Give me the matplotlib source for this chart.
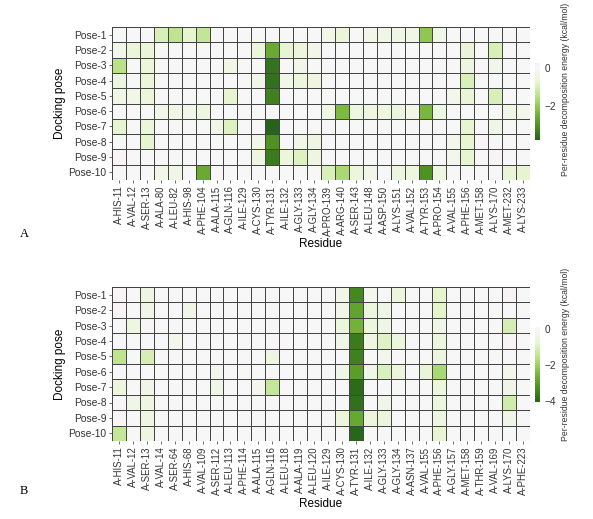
import numpy as np
import matplotlib
matplotlib.use("Agg")
import matplotlib.pyplot as plt
from matplotlib.colors import ListedColormap, Normalize

plt.rcParams['font.family'] = ['Liberation Sans', 'DejaVu Sans']

poses = [f"Pose-{i}" for i in range(1, 11)]

residues_a = ["A-HIS-11", "A-VAL-12", "A-SER-13", "A-ALA-80", "A-LEU-82", "A-HIS-98",
              "A-PHE-104", "A-ALA-115", "A-GLN-116", "A-ILE-129", "A-CYS-130", "A-TYR-131",
              "A-ILE-132", "A-GLY-133", "A-GLY-134", "A-PRO-139", "A-ARG-140", "A-SER-143",
              "A-LEU-148", "A-ASP-150", "A-LYS-151", "A-VAL-152", "A-TYR-153", "A-PRO-154",
              "A-VAL-155", "A-PHE-156", "A-MET-158", "A-LYS-170", "A-MET-232", "A-LYS-233"]

residues_b = ["A-HIS-11", "A-VAL-12", "A-SER-13", "A-VAL-14", "A-SER-64", "A-HIS-68",
              "A-VAL-109", "A-SER-112", "A-LEU-113", "A-PHE-114", "A-ALA-115", "A-GLN-116",
              "A-LEU-118", "A-ALA-119", "A-LEU-120", "A-ILE-129", "A-CYS-130", "A-TYR-131",
              "A-ILE-132", "A-GLY-133", "A-GLY-134", "A-ASN-137", "A-VAL-155", "A-PHE-156",
              "A-GLY-157", "A-MET-158", "A-THR-159", "A-VAL-169", "A-LYS-170", "A-PHE-223"]

# Panel A energies (kcal/mol), rows Pose-1..Pose-10, columns residues_a
energy_a = [
    [0, 0, 0, -1.0, -1.4, -0.75, -1.35, 0, 0, 0, 0, 0, 0, 0, 0,
     -0.3, -0.6, 0, -0.3, -0.35, -0.35, -0.35, -2.05, -0.3, 0, 0, 0, 0, 0, 0],
    [-0.3, -0.6, -0.6, 0, 0, 0, 0, 0, 0, 0, -0.6, -2.6, -0.7, -0.55, -0.3,
     0, 0, 0, 0, 0, 0, 0, 0, 0, 0, -0.65, 0, -1.0, 0, 0],
    [-1.5, 0, -0.55, 0, 0, 0, 0, 0, -0.35, 0, 0, -3.5, 0, -0.3, 0,
     0, 0, 0, 0, 0, 0, 0, 0, 0, 0, -0.4, 0, -0.25, 0, 0],
    [-0.5, 0, -0.6, 0, 0, 0, 0, 0, 0, 0, -0.35, -3.55, -0.3, -0.55, -0.4,
     0, 0, 0, 0, 0, 0, 0, 0, 0, 0, -1.0, 0, 0, 0, 0],
    [-0.35, -0.3, -0.55, 0, 0, 0, 0, 0, -0.75, 0, 0, -3.3, 0, 0, 0,
     0, 0, 0, 0, 0, 0, 0, 0, 0, -0.2, -0.65, 0, -1.0, 0, 0],
    [0, 0, 0, -0.25, -0.35, -0.25, -0.45, 0, 0, 0, 0, 0, 0, 0, 0,
     -0.4, -2.3, -0.45, -0.4, -0.45, -0.5, -0.3, -2.35, -0.45, 0, 0, 0, 0, -0.35, -0.2],
    [-0.75, 0, -0.55, 0, 0, 0, 0, -0.35, -0.9, 0, 0, -3.8, 0, 0, 0,
     0, 0, 0, 0, 0, 0, 0, 0, 0, 0, -0.7, 0, -0.35, 0, 0],
    [0, 0, -0.75, 0, 0, 0, 0, 0, 0, 0, -0.3, -3.0, 0, -0.3, -0.4,
     0, 0, 0, 0, 0, 0, 0, 0, 0, -0.2, -0.7, 0.05, 0, 0, 0],
    [0.08, 0, 0, 0, 0, 0, 0, 0, 0, 0, -0.4, -3.4, -0.55, -0.9, -0.4,
     0, 0, 0, 0, 0, 0, 0, 0, 0, -0.2, -0.7, 0, 0.1, 0, 0],
    [0, 0, 0, -0.3, -0.35, 0, -2.6, 0, 0, 0, 0, 0, 0, 0, 0,
     -1.0, -1.7, -0.5, -0.3, 0, -0.5, -0.45, -3.0, -0.45, 0, 0, 0, 0, -0.65, -0.75],
]

# Panel B energies (kcal/mol), rows Pose-1..Pose-10, columns residues_b
energy_b = [
    [0.1, 0, -0.45, 0, 0, 0, 0, 0, 0, 0, 0, 0, 0, 0, 0,
     0, -0.35, -3.4, -0.25, 0, -0.55, 0, 0, -0.8, 0, 0, 0, 0, 0.1, 0],
    [0.1, 0, -0.35, 0, 0, -0.35, 0, 0, 0, 0, 0, 0, 0, 0, 0,
     0, -0.35, -2.9, -0.55, -0.35, 0, 0, 0, -0.85, 0, 0, 0, 0, 0, 0],
    [0, -0.45, 0.08, 0, 0, 0, 0, 0, 0, 0, 0, 0, 0, 0, 0,
     0, -0.55, -2.6, -0.55, -0.35, 0, 0, 0, -0.35, 0, 0, 0, 0, -1.1, 0],
    [0, 0, 0, 0, -0.25, 0, 0, 0, 0, 0, 0, 0.08, 0, 0, 0,
     0, -0.35, -3.6, -0.45, -0.95, -0.55, 0, 0, -0.55, 0, 0, 0, 0, 0.1, 0],
    [-1.5, 0, -1.1, 0, 0, 0, 0, 0, 0, 0, 0, -0.45, 0, 0, 0,
     0, 0, -3.5, 0, -0.25, 0, 0, 0, -0.55, 0, 0, 0, 0, 0, 0],
    [0, 0, 0, 0, 0, 0, 0, -0.25, 0, 0, 0, 0, 0, 0, 0,
     0, -0.35, -3.0, -0.35, -1.0, -0.55, 0, -0.65, -1.8, 0, 0, 0, 0, -0.25, 0],
    [-0.55, 0, -0.35, 0, 0, 0, 0, -0.35, 0, 0, -0.25, -1.4, 0, 0, 0,
     0, 0, -3.9, 0, 0, 0, 0, 0, -0.55, 0, 0, 0, 0, -0.35, 0],
    [0.08, -0.35, -0.45, 0, 0, 0, 0, 0, 0, 0, 0, 0, 0, 0, 0,
     0, 0, -3.8, 0, -0.35, 0, 0, 0, -0.55, 0, 0, 0, 0, -1.2, 0],
    [0.08, 0, -0.45, 0, 0, 0, 0, 0, 0, 0, 0, 0, 0, 0, 0,
     0, -0.55, -2.8, -0.55, -0.55, 0, 0, 0, -0.45, 0, 0, 0, 0, -0.35, 0],
    [-1.4, 0, -0.45, 0, 0, 0, 0, 0, 0, 0, 0, 0, 0, 0, 0,
     0, 0, -4.0, 0, 0, 0, 0, 0, -0.75, 0, 0, 0, 0, 0, 0],
]

range_a = (-3.8, 0.25)
range_b = (-4.05, 0.1)
ticks_a = [0, -2]
ticks_b = [0, -2, -4]

cbar_label = "Per-residue decomposition energy (kcal/mol)"

fig = plt.figure(figsize=(5.93, 5.19), dpi=100)
fig.patch.set_facecolor("white")


def make_cmap(dmin, dmax):
    L = max(-dmin, dmax)
    base = plt.get_cmap("PiYG_r")
    lo = 0.5 + dmin / (2 * L)
    hi = 0.5 + dmax / (2 * L)
    cols = base(np.linspace(lo, hi, 256))
    return ListedColormap(cols), Normalize(dmin, dmax)


def draw_panel(ax_rect, cax_rect, data, residues, vrange, cticks, letter, letter_y, label_y):
    ax = fig.add_axes(ax_rect)
    cax = fig.add_axes(cax_rect)
    cmap, norm = make_cmap(*vrange)
    arr = np.array(data, dtype=float)
    mesh = ax.pcolormesh(arr, cmap=cmap, norm=norm, edgecolors="#444444", linewidth=0.68)
    ax.set_xlim(0, arr.shape[1])
    ax.set_ylim(arr.shape[0], 0)
    ax.set_xticks(np.arange(arr.shape[1]) + 0.5)
    ax.set_xticklabels(residues, rotation=90, fontsize=6.9, color="#333333")
    ax.set_yticks(np.arange(arr.shape[0]) + 0.5)
    ax.set_yticklabels(poses, fontsize=7.4, color="#333333")
    ax.tick_params(length=2.5, width=0.6, color="#555555", pad=1.5)
    for s in ax.spines.values():
        s.set_visible(False)
    ax.set_xlabel("Residue", fontsize=8.5, labelpad=2)
    ax.set_ylabel("Docking pose", fontsize=8.5, labelpad=2)
    cb = fig.colorbar(mesh, cax=cax, ticks=cticks)
    cb.outline.set_visible(False)
    cb.ax.set_yticklabels([f"{t}" if t >= 0 else f"\u2212{abs(t)}" for t in cticks])
    cb.ax.tick_params(labelsize=7.2, length=2, width=0.6, color="#ffffff", labelcolor="#333333", pad=1.5)
    fig.text(565 / 593, label_y, cbar_label, rotation=90,
             fontsize=6.2, ha="center", va="center", color="#333333")
    fig.text(20 / 593, letter_y, letter, fontsize=9, family="Liberation Serif",
             ha="left", va="center")


draw_panel([112 / 593, 1 - 180 / 519, 418 / 593, 153 / 519],
           [535 / 593, 1 - 140 / 519, 4.5 / 593, 77 / 519],
           energy_a, residues_a, range_a, ticks_a, "A", 1 - 234 / 519, 1 - 89 / 519)
draw_panel([112 / 593, 1 - 441 / 519, 418 / 593, 154 / 519],
           [535 / 593, 1 - 402 / 519, 4.5 / 593, 75 / 519],
           energy_b, residues_b, range_b, ticks_b, "B", 1 - 491 / 519, 1 - 354 / 519)

fig.savefig("out.png", dpi=100, facecolor="white")
